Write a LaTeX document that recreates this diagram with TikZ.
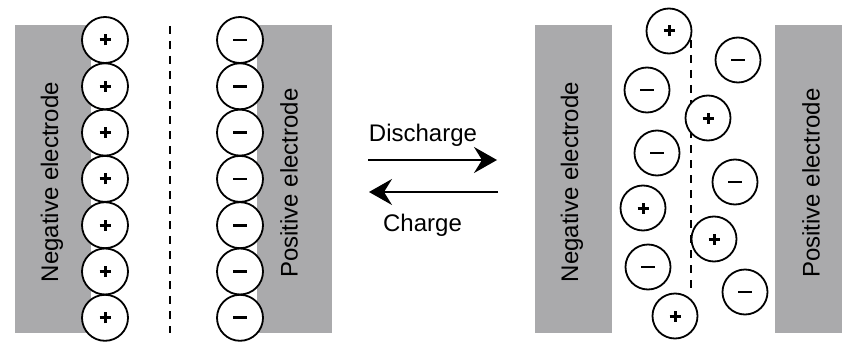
\documentclass[tikz,border=0pt]{standalone}
\usepackage{fontspec}
\setmainfont{Liberation Sans}
\usetikzlibrary{arrows.meta}
\definecolor{elgray}{RGB}{170,170,172}
\begin{document}
\begin{tikzpicture}[x=1pt,y=-1pt,
  electrode/.style={fill=elgray, draw=none, inner sep=0pt, outer sep=0pt},
  lbl/.style={font=\fontsize{24}{28}\selectfont, rotate=90, inner sep=0pt},
  ion/.style={circle, draw, line width=1.8pt, fill=white, inner sep=0pt, minimum size=46pt},
  sion/.style={ion, minimum size=45pt},
  plusion/.style={path picture={
    \draw[line width=3pt] ([xshift=-5.5pt]path picture bounding box.center) -- ([xshift=5.5pt]path picture bounding box.center);
    \draw[line width=3pt] ([yshift=-5.5pt]path picture bounding box.center) -- ([yshift=5.5pt]path picture bounding box.center);}},
  minusion/.style={path picture={
    \draw[line width=2.8pt] ([xshift=-7pt]path picture bounding box.center) -- ([xshift=7pt]path picture bounding box.center);}},
  sepline/.style={dash pattern=on 8pt off 7pt, line width=1.4pt},
  flow/.style={line width=2pt, -{Stealth[length=23pt,width=26pt,inset=8pt]}},
  caption/.style={font=\fontsize{24}{28}\selectfont, inner sep=0pt}
]
\useasboundingbox (0,0) rectangle (842,342);
% electrodes
\node[electrode, minimum width=76pt, minimum height=308pt] (gL1) at (53,179) {};
\node[electrode, minimum width=75pt, minimum height=308pt] (gR1) at (294.5,179) {};
\node[electrode, minimum width=77pt, minimum height=308pt] (gL2) at (573.5,179) {};
\node[electrode, minimum width=67pt, minimum height=308pt] (gR2) at (808.5,179) {};
% separators
\coordinate (s1a) at (170,26);
\coordinate (s1b) at (170,333);
\draw[sepline] (s1a) -- (s1b);
\coordinate (s2a) at (691,40);
\coordinate (s2b) at (691,293);
\draw[sepline] (s2a) -- (s2b);
% charged state ions
\foreach \i in {0,...,6} {
  \node[ion, plusion] (p\i) at (105,{40+46.3*\i}) {};
  \node[ion, minusion] (m\i) at (240,{40+46.3*\i}) {};
}
% discharged state ions
\node[sion, plusion] (r1) at (669,31) {};
\node[sion, minusion] (r2) at (738,60) {};
\node[sion, minusion] (r3) at (647,90) {};
\node[sion, plusion] (r4) at (708,118) {};
\node[sion, minusion] (r5) at (657,153) {};
\node[sion, minusion] (r6) at (735,182) {};
\node[sion, plusion] (r7) at (643,208) {};
\node[sion, plusion] (r8) at (714,239) {};
\node[sion, minusion] (r9) at (648,267) {};
\node[sion, minusion] (r10) at (745,292) {};
\node[sion, plusion] (r11) at (675,316) {};
% labels
\node[lbl] (t1) at (52,182) {Negative electrode};
\node[lbl] (t2) at (289,183) {Positive electrode};
\node[lbl] (t3) at (572,182) {Negative electrode};
\node[lbl] (t4) at (811,183) {Positive electrode};
% arrows
\coordinate (d1) at (368,160);
\coordinate (d2) at (497,160);
\draw[flow] (d1) -- (d2);
\coordinate (c1) at (498,192);
\coordinate (c2) at (369,192);
\draw[flow] (c1) -- (c2);
\node[caption] (dis) at (423,135) {Discharge};
\node[caption] (chg) at (422.5,225) {Charge};
\end{tikzpicture}
\end{document}
